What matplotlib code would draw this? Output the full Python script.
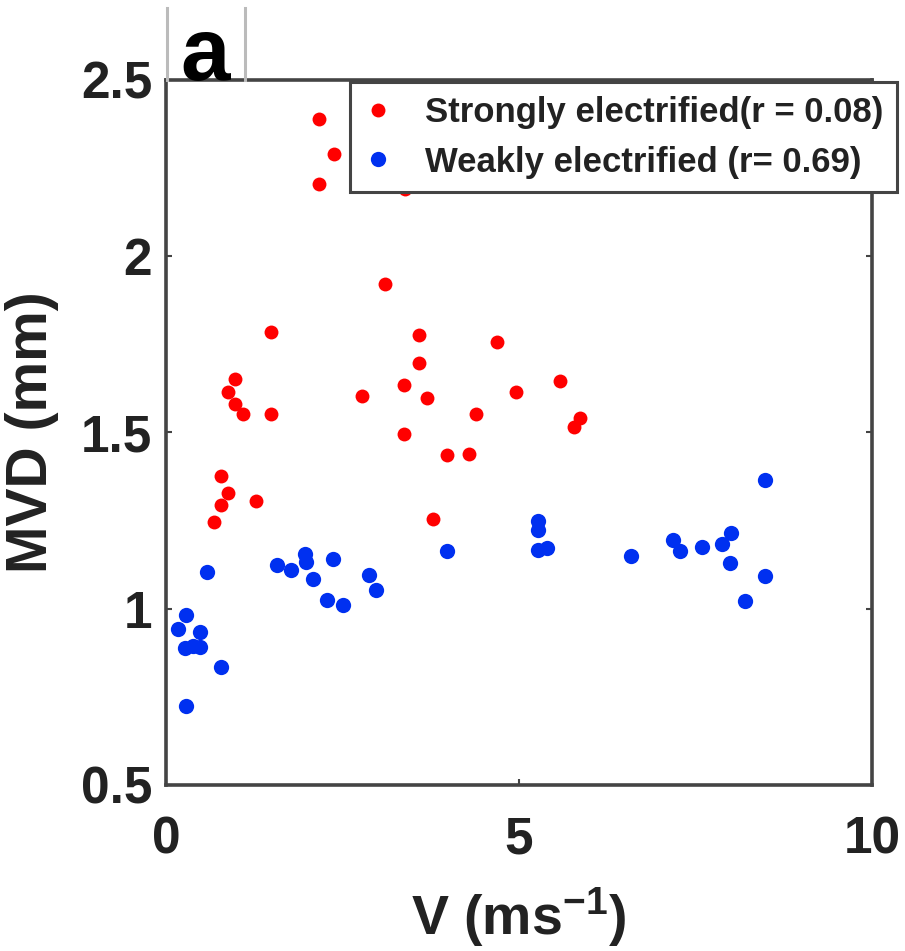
import matplotlib
matplotlib.use("Agg")
import matplotlib.pyplot as plt
from matplotlib.lines import Line2D

# Strongly electrified samples: wind speed V (m/s) and MVD (mm)
strong_v = [2.17, 2.38, 2.17, 3.39, 3.10, 1.49, 3.58, 4.69, 3.58, 0.977,
            0.874, 3.375, 2.77, 4.96, 3.69, 0.977, 1.086, 1.49, 4.39, 3.375,
            3.98, 4.29, 0.774, 0.883, 0.774, 1.28, 0.684, 3.78, 5.58, 5.86, 5.78]
strong_mvd = [2.39, 2.29, 2.205, 2.19, 1.92, 1.786, 1.776, 1.758, 1.696, 1.653,
              1.616, 1.634, 1.603, 1.616, 1.598, 1.58, 1.553, 1.553, 1.553, 1.496,
              1.435, 1.439, 1.376, 1.329, 1.293, 1.305, 1.246, 1.256, 1.645, 1.541, 1.517]

# Weakly electrified samples
weak_v = [0.576, 1.568, 1.77, 1.97, 1.98, 2.08, 2.37, 2.88, 2.98, 2.28,
          2.50, 3.98, 0.283, 0.175, 0.48, 0.27, 0.48, 0.38, 0.774, 0.283,
          8.48, 5.27, 5.27, 5.27, 5.39, 6.59, 7.18, 7.28, 7.59, 7.88,
          8.0, 7.99, 8.48, 8.20]
weak_mvd = [1.104, 1.125, 1.111, 1.155, 1.134, 1.084, 1.142, 1.097, 1.052, 1.024,
            1.011, 1.165, 0.983, 0.943, 0.934, 0.888, 0.892, 0.895, 0.834, 0.724,
            1.366, 1.248, 1.224, 1.168, 1.172, 1.151, 1.196, 1.163, 1.174, 1.183,
            1.214, 1.13, 1.094, 1.021]

labels = ["Strongly electrified(r = 0.08)", "Weakly electrified (r= 0.69)"]
x_ticks = [0, 5, 10]
x_ticklabels = ["0", "5", "10"]
y_ticks = [0.5, 1, 1.5, 2, 2.5]
y_ticklabels = ["0.5", "1", "1.5", "2", "2.5"]

plt.rcParams["font.family"] = ["Liberation Sans", "DejaVu Sans"]
plt.rcParams["font.weight"] = "bold"
plt.rcParams["mathtext.fontset"] = "custom"
plt.rcParams["mathtext.rm"] = "Liberation Sans:bold"
plt.rcParams["mathtext.bf"] = "Liberation Sans:bold"
plt.rcParams["mathtext.default"] = "bf"

W, H = 905, 951
fig = plt.figure(figsize=(W / 100, H / 100), dpi=100)
ax = fig.add_axes([166 / W, 1 - 785 / H, (872 - 166) / W, (785 - 80) / H])

red = "#FF0000"
blue = "#0030F0"
ax.plot(strong_v, strong_mvd, "o", color=red, ms=10, mec="none")
ax.plot(weak_v, weak_mvd, "o", color=blue, ms=11, mec="none")

ax.set_xlim(0, 10)
ax.set_ylim(0.5, 2.5)
ax.set_xticks(x_ticks)
ax.set_xticklabels(x_ticklabels)
ax.set_yticks(y_ticks)
ax.set_yticklabels(y_ticklabels)

spine_col = "#444444"
for s in ax.spines.values():
    s.set_linewidth(2.6)
    s.set_color(spine_col)

ax.tick_params(axis="both", direction="in", length=4, width=1.5, color=spine_col,
               labelsize=37, labelcolor="#222222", top=True, right=True)
ax.tick_params(axis="x", pad=22)
ax.tick_params(axis="y", pad=10)
for lab in ax.get_xticklabels() + ax.get_yticklabels():
    lab.set_fontweight("bold")

ax.set_xlabel("V (ms$^{-1}$)", fontsize=40, fontweight="bold",
              color="#222222", labelpad=15)
ax.set_ylabel("MVD (mm)", fontsize=41, fontweight="bold", color="#222222",
              labelpad=16)

handles = [Line2D([], [], ls="none", marker="o", color=red, ms=10, mec="none"),
           Line2D([], [], ls="none", marker="o", color=blue, ms=11, mec="none")]
leg = ax.legend(handles, labels, loc="upper left",
                bbox_to_anchor=((350 - 166) / 706, (785 - 82) / 705),
                prop={"size": 25, "weight": "bold"}, frameon=True,
                fancybox=False, framealpha=1, edgecolor=spine_col,
                borderpad=0.4, handlelength=0.8, handletextpad=0.95,
                labelspacing=0.48, borderaxespad=0)
leg.get_frame().set_linewidth(2.2)
for t in leg.get_texts():
    t.set_color("#222222")

# panel label box above the axes
for xp in (167, 245):
    fig.add_artist(Line2D([xp / W, xp / W], [1 - 8 / H, 1 - 80 / H],
                          color="#bbbbbb", lw=2.2))
fig.text(205 / W, 1 - 80 / H, "a", fontsize=64, fontweight="bold",
         ha="center", va="baseline", color="black")

fig.savefig("out.png", dpi=100, facecolor="white")
